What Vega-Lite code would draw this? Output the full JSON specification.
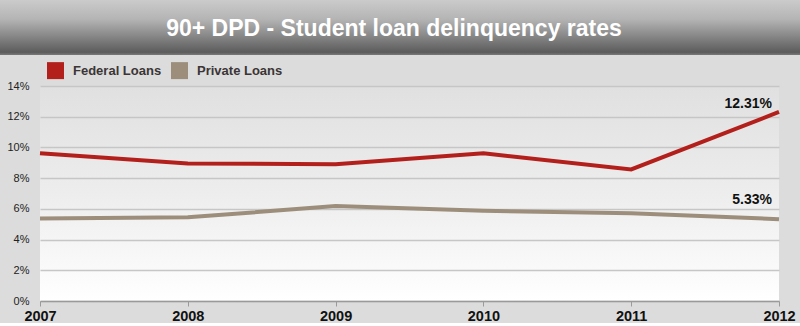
{
  "$schema": "https://vega.github.io/schema/vega-lite/v6.json",
  "background": "#dcdcdc",
  "padding": 0,
  "spacing": 7,
  "resolve": {"scale": {"color": "independent"}, "legend": {"color": "independent"}},
  "config": {"font": "Liberation Sans"},
  "vconcat": [
    {
      "width": 800,
      "height": 55,
      "view": {
        "stroke": null,
        "fill": {
          "gradient": "linear", "x1": 0, "y1": 0, "x2": 0, "y2": 1,
          "stops": [
            {"offset": 0, "color": "#cbcbcb"},
            {"offset": 0.35, "color": "#b4b4b4"},
            {"offset": 0.95, "color": "#5c5c5c"},
            {"offset": 1, "color": "#7a7a7a"}
          ]
        }
      },
      "data": {"values": [{"title": "90+ DPD - Student loan delinquency rates"}]},
      "mark": {"type": "text", "font": "Liberation Sans", "fontWeight": "bold", "fontSize": 23, "color": "#ffffff", "align": "center", "baseline": "alphabetic", "dy": 8.5, "dx": -6},
      "encoding": {"text": {"field": "title"}}
    },
    {
      "spacing": 0,
      "resolve": {"scale": {"color": "independent"}, "legend": {"color": "independent"}},
      "hconcat": [
        {
          "width": 1,
          "height": 1,
          "view": {"stroke": null},
          "data": {"values": []},
          "mark": "point"
        },
        {
          "width": 739,
          "height": 215,
          "view": {
            "stroke": null,
            "fill": {
              "gradient": "linear", "x1": 0, "y1": 0, "x2": 0, "y2": 1,
              "stops": [
                {"offset": 0, "color": "#e0e0e0"},
                {"offset": 0.5, "color": "#ededed"},
                {"offset": 1, "color": "#ffffff"}
              ]
            }
          },
          "data": {
            "values": [
              {"year": 2007, "series": "Federal Loans", "rate": 0.0962},
              {"year": 2008, "series": "Federal Loans", "rate": 0.0896},
              {"year": 2009, "series": "Federal Loans", "rate": 0.0890},
              {"year": 2010, "series": "Federal Loans", "rate": 0.0962},
              {"year": 2011, "series": "Federal Loans", "rate": 0.0857},
              {"year": 2012, "series": "Federal Loans", "rate": 0.1231},
              {"year": 2007, "series": "Private Loans", "rate": 0.0538},
              {"year": 2008, "series": "Private Loans", "rate": 0.0545},
              {"year": 2009, "series": "Private Loans", "rate": 0.0618},
              {"year": 2010, "series": "Private Loans", "rate": 0.0588},
              {"year": 2011, "series": "Private Loans", "rate": 0.0571},
              {"year": 2012, "series": "Private Loans", "rate": 0.0533}
            ]
          },
          "encoding": {
            "x": {
              "field": "year", "type": "ordinal",
              "scale": {"type": "point", "padding": 0},
              "axis": {
                "title": null, "labelAngle": 0, "labelFontSize": 14.5, "labelFontWeight": "bold",
                "labelColor": "#111111", "labelPadding": 3, "tickSize": 5, "tickColor": "#9a9a9a",
                "domainColor": "#9a9a9a", "domainWidth": 1.5, "grid": false,
                "labelOverlap": false, "labelBound": false, "labelFlush": false
              }
            },
            "y": {
              "field": "rate", "type": "quantitative",
              "scale": {"domain": [0, 0.14], "nice": false, "zero": true},
              "axis": {
                "title": null, "values": [0, 0.02, 0.04, 0.06, 0.08, 0.1, 0.12, 0.14],
                "format": ".0%", "domain": false, "ticks": false, "labelPadding": 11,
                "labelFontSize": 11, "labelColor": "#222222", "gridColor": "#c6c6c6",
                "gridWidth": 1.5, "minExtent": 39, "maxExtent": 39
              }
            }
          },
          "layer": [
            {
              "mark": {"type": "line", "strokeWidth": 4},
              "encoding": {
                "color": {
                  "field": "series", "type": "nominal",
                  "scale": {"domain": ["Federal Loans", "Private Loans"], "range": ["#b3201c", "#9c8e7b"]},
                  "legend": {
                    "title": null, "orient": "none", "legendX": 7, "legendY": -24,
                    "direction": "horizontal", "symbolType": "square", "symbolSize": 72,
                    "symbolStrokeWidth": 8.5, "symbolOpacity": 1, "labelFontSize": 13, "labelFontWeight": "bold",
                    "labelColor": "#3b3535", "labelOffset": 9, "columnPadding": -4, "padding": 0
                  }
                }
              }
            },
            {
              "transform": [{"filter": "datum.year == 2012 && datum.series == 'Federal Loans'"}],
              "mark": {"type": "text", "align": "right", "baseline": "alphabetic", "dx": -7, "dy": -4, "fontSize": 14, "fontWeight": "bold", "color": "#111111"},
              "encoding": {"text": {"field": "rate", "type": "quantitative", "format": ".2%"}}
            },
            {
              "transform": [{"filter": "datum.year == 2012 && datum.series == 'Private Loans'"}],
              "mark": {"type": "text", "align": "right", "baseline": "alphabetic", "dx": -7, "dy": -15, "fontSize": 14, "fontWeight": "bold", "color": "#111111"},
              "encoding": {"text": {"field": "rate", "type": "quantitative", "format": ".2%"}}
            }
          ]
        }
      ]
    }
  ]
}
